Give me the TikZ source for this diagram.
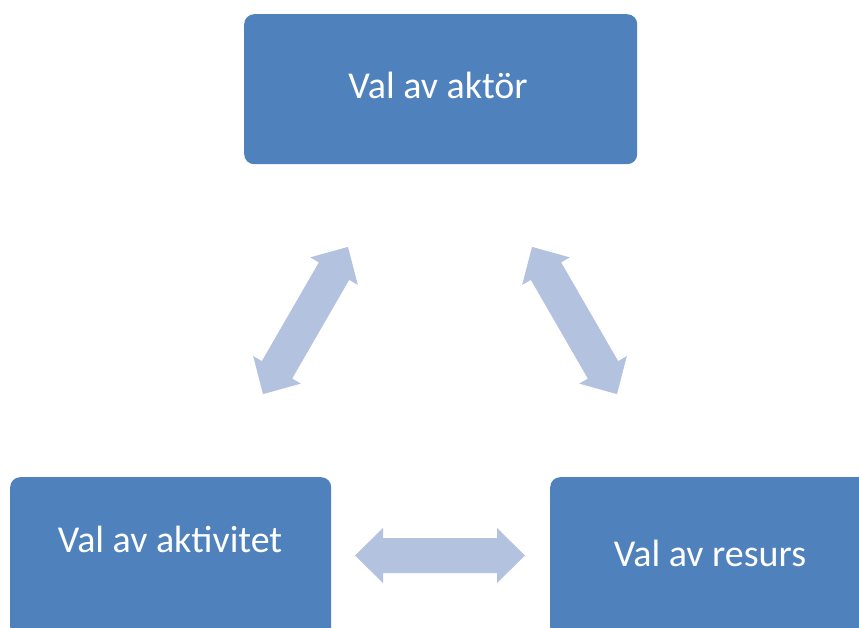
\documentclass[tikz,border=0pt]{standalone}
\usepackage{fontspec}
\setmainfont{Carlito}
\definecolor{boxblue}{HTML}{4F81BD}
\definecolor{arrowblue}{HTML}{B3C2DE}
\begin{document}
\begin{tikzpicture}[x=1pt,y=-1pt,
  box/.style={fill=boxblue, draw=none, rounded corners=10pt, inner sep=0pt, anchor=north west},
  lbl/.style={text=white, font=\fontsize{38}{42}\selectfont, anchor=base, inner sep=0pt},
  dblarrow/.style={fill=arrowblue, draw=none}]
\useasboundingbox (0,0) rectangle (859,628);
\clip (0,0) rectangle (859,628);
% boxes
\node[box, minimum width=393pt, minimum height=150pt] (actor) at (244,14) {};
\node[box, minimum width=321pt, minimum height=160pt] (activity) at (10,477) {};
\node[box, minimum width=321pt, minimum height=160pt] (resource) at (550,477) {};
% labels
\node[lbl] (tactor) at (438,99) {Val av aktör};
\node[lbl] (tactivity) at (170,552) {Val av aktivitet};
\node[lbl] (tresource) at (710,566) {Val av resurs};
% double arrows
\newcommand{\dblarrowshape}{(-85,0) -- (-57,-27.5) -- (-57,-17.5) -- (57,-17.5) -- (57,-27.5) -- (85,0) -- (57,27.5) -- (57,17.5) -- (-57,17.5) -- (-57,27.5) -- cycle}
\fill[dblarrow, shift={(305.5,320.5)}, rotate=60] \dblarrowshape;
\fill[dblarrow, shift={(574.5,320.5)}, rotate=-60] \dblarrowshape;
\fill[dblarrow, shift={(440,555.5)}] \dblarrowshape;
\end{tikzpicture}
\end{document}
